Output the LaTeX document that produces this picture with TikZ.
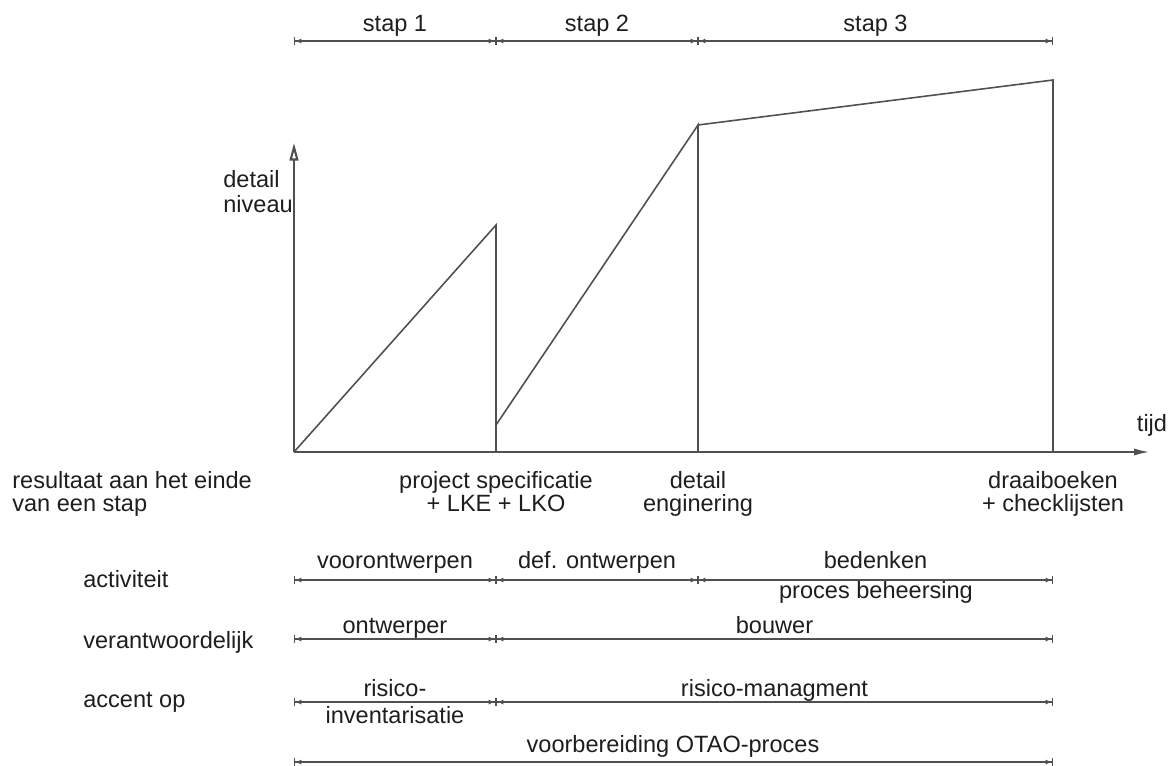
\documentclass[tikz,border=0pt]{standalone}
\usepackage{fontspec}
\setmainfont{Liberation Sans}
\usepackage{tikz}
\usetikzlibrary{arrows.meta}
\definecolor{ink}{RGB}{80,80,80}
\definecolor{type}{RGB}{30,30,30}

\tikzset{
  lbl/.style={font=\fontsize{13.4}{13}\selectfont,text=type,inner sep=0pt},
  axis/.style={ink,line width=1.2pt},
  level/.style={ink,line width=0.9pt},
  span/.style={ink,line width=0.75pt,
    {Bar[width=5pt]Latex[length=3.5pt,width=3pt]}-{Latex[length=3.5pt,width=3pt]Bar[width=5pt]}},
}

\begin{document}
\begin{tikzpicture}[x=0.02cm,y=-0.02cm]
  % 1 unit = 1px, y runs downward
  \useasboundingbox (0,0) rectangle (1173,765);
  % axes
  \coordinate (o) at (294,452);
  \coordinate (top) at (294,143);
  \coordinate (end) at (1150,452);
  \draw[axis,-{Triangle[open,length=10pt,width=5pt]}] (o) -- (top);
  \draw[axis,-{Latex[length=9pt,width=4pt]}] (o) -- (end);
  \node[lbl,anchor=base] (tijd) at (1152,431) {tijd};
  % two-line labels: base sits on the last line
  \node[lbl,anchor=base west,align=left] (niveau) at (223,212) {detail\\[1pt]niveau};
  % detail level per stap
  \draw[level] (o) -- (496,225) -- (496,452);
  \draw[level] (496,425) -- (698,125) -- (698,452);
  \draw[level] (698,125) -- (1053,80) -- (1053,452);
  % stappen along the top
  \foreach \a/\b/\l in {294/496/stap 1,496/698/stap 2,698/1053/stap 3} {
    \draw[span] (\a,41) -- (\b,41);
    \node[lbl,anchor=base] at ({(\a+\b)/2},31) {\l};
  }
  % results at the end of each stap
  \node[lbl,anchor=base west,align=left] (res) at (12,511) {resultaat aan het einde\\van een stap};
  \foreach \x/\l in {496/project specificatie\\+ LKE + LKO,698/detail\\enginering,1053/draaiboeken\\+ checklijsten}
    \node[lbl,anchor=base,align=center] at (\x,511) {\l};
  % row labels
  \foreach \y/\l in {587/activiteit,648/verantwoordelijk,707/accent op}
    \node[lbl,anchor=base west] at (83,\y) {\l};
  % activiteit
  \foreach \a/\b/\l in {294/496/voorontwerpen,496/698/def. ontwerpen,698/1053/bedenken} {
    \draw[span] (\a,580) -- (\b,580);
    \node[lbl,anchor=base] at ({(\a+\b)/2},568) {\l};
  }
  \node[lbl,anchor=base] at (876,598) {proces beheersing};
  % verantwoordelijk
  \foreach \a/\b/\l in {294/496/ontwerper,496/1053/bouwer} {
    \draw[span] (\a,639) -- (\b,639);
    \node[lbl,anchor=base] at ({(\a+\b)/2},633) {\l};
  }
  % accent op
  \foreach \a/\b/\l in {294/496/risico-,496/1053/risico-managment} {
    \draw[span] (\a,702) -- (\b,702);
    \node[lbl,anchor=base] at ({(\a+\b)/2},696) {\l};
  }
  \node[lbl,anchor=base] at (395,723) {inventarisatie};
  % whole run
  \draw[span] (294,762) -- (1053,762);
  \node[lbl,anchor=base] at (673,752) {voorbereiding OTAO-proces};
\end{tikzpicture}
\end{document}
